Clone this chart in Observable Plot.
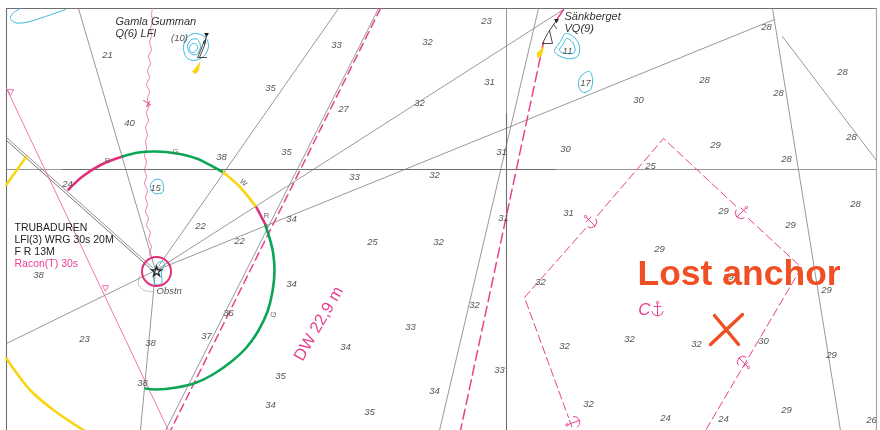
<!DOCTYPE html>
<html>
<head>
<meta charset="utf-8">
<script src="https://cdn.jsdelivr.net/npm/d3@7"></script>
<script src="https://cdn.jsdelivr.net/npm/@observablehq/plot@0.6"></script>
<style>
html,body{margin:0;padding:0;background:#fff}
#chart svg{display:block;filter:blur(0.3px)}
</style>
</head>
<body>
<div id="chart"></div>
<script>
const FONT = "Liberation Sans";
const GRAY = "#8c8c8c", DARK = "#6e6e6e", PINK = "#e8418f", BLUE = "#3cb9dd", GREEN = "#0ba653", YELLOW = "#fbd512", RED = "#f04e23", INK = "#555";

// Soundings: x, y, depth
const depths = [
  [107,54,"21"],[129,122,"40"],[270,87,"35"],[286,151,"35"],[221,156,"38"],[67,183,"24"],
  [200,225,"22"],[239,240,"22"],[38,274,"38"],[291,218,"34"],[291,283,"34"],[228,312,"36"],
  [206,335,"37"],[84,338,"23"],[150,342,"38"],[142,382,"38"],[280,375,"35"],[270,404,"34"],
  [336,44,"33"],[427,41,"32"],[486,20,"23"],[489,81,"31"],[419,102,"32"],[343,108,"27"],
  [354,176,"33"],[434,174,"32"],[501,151,"31"],[565,148,"30"],[503,217,"31"],[568,212,"31"],
  [372,241,"25"],[438,241,"32"],[540,281,"32"],[474,304,"32"],[410,326,"33"],[345,346,"34"],
  [564,345,"32"],[499,369,"33"],[434,390,"34"],[369,411,"35"],[588,403,"32"],
  [766,26,"28"],[704,79,"28"],[638,99,"30"],[778,92,"28"],[842,71,"28"],[851,136,"28"],
  [715,144,"29"],[786,158,"28"],[650,165,"25"],[723,210,"29"],[855,203,"28"],
  [790,224,"29"],[659,248,"29"],[826,289,"29"],[728,276,"29"],[629,338,"32"],[696,343,"32"],
  [763,340,"30"],[831,354,"29"],[665,417,"24"],[723,418,"24"],[786,409,"29"],[871,419,"26"],
  [179,37,"(10)"],[155,187,"15"],[567,50,"11"],[585,82,"17"]
];

// Straight chart lines
const thinLines = [
  [[78,8],[155,270]],[[155,270],[140,430]],[[338,8],[155,270]],[[155,270],[563,9]],
  [[155,270],[774,19]],[[155,270],[6,343]],[[378,8],[165,430]],[[538,8],[439,430]],
  [[772,8],[840,430]],[[782,36],[876,160]],[[6,169],[62,169]],[[506,8],[506,113]],
  [[555,169],[876,169]]
];
const darkLines = [
  [[62,169],[555,169]],[[506,113],[506,430]],[[6,8],[876,8]],[[6,8],[6,430]]
];
const frameRight = [[876,8],[876,430]];
const cableA = [[6,137],[152,267]];
const cableB = [[6,140],[151,269]];

// Pink lines
const pinkThin = [[6,88],[168,430]];
const channelA = [[380,8],[170,430]];
const channelB = [[543,42],[460,430]];
const channelC = [[557,18],[563,9]];
const areaDash = [[597,215],[663,138],[737,207]];
const areaDash2 = [[748,218],[801,267],[705,430]];
const areaDash3 = [[585,228],[524,297],[568,417]];
const cableWave = [
  [152,8],[151,14],[152,21],[150,28],[151,35],[149,42],[151,49],[148,56],[150,63],[147,70],
  [149,77],[146,84],[149,91],[147,98],[148,106],[146,113],[148,120],[145,127],[147,134],[145,141],
  [146,148],[144,155],[146,162],[144,169],[146,176],[144,183],[147,190],[145,197],[147,204],[145,211],
  [148,218],[146,225],[150,232],[148,239],[151,246],[149,253],[152,259]
];
const waveMark = [[143,100],[150,104],[146,106],[149,101]];

// Light sector arcs
const arcRed1 = [[68,189],[82,176],[101,164],[122,156]];
const arcGreen1 = [[122,156],[138,152],[155,151],[176,153],[196,158],[214,167],[223,172]];
const arcYellow1 = [[223,172],[239,186],[256,207]];
const arcRed2 = [[256,207],[266,226]];
const arcGreen2 = [[265,225],[272,249],[274,270],[272,291],[267,311],[258,330],[246,347],[231,361],[214,373],[196,382],[176,387],[155,389],[145,388]];
const arcYellow2 = [[6,358],[30,390],[55,411],[85,431]];
const arcYellow3 = [[6,184],[26,156]];

// Shoals
const shoals = [
  [[183,47],[186,37],[195,33],[205,37],[208,46],[203,56],[193,60],[186,57]],
  [[187,46],[191,39],[197,39],[200,46],[196,54],[190,53]],
  [[189,47],[192,43],[196,44],[197,48],[193,52],[190,51]],
  [[565,33],[574,37],[579,46],[577,56],[566,58],[554,51],[560,41]],
  [[566,38],[573,43],[574,52],[566,53],[559,50],[563,43]],
  [[578,82],[581,75],[589,71],[592,78],[590,89],[583,92],[579,88]],
  [[150,184],[155,179],[161,180],[163,186],[162,192],[155,193],[151,190]],
  [[162,261],[158,262],[154,268],[153,276],[155,284],[161,283],[161,272],[164,263]]
];
const shoalOpen = [[20,8],[12,13],[10,18],[14,22],[25,22],[45,16],[65,9]];
const obstn = [[139,276],[138,284],[144,290],[152,291]];

// Beacons and flares
const beacons = [
  [[206,34],[204,45],[199,57]],[[204,40],[200,50],[197,57],[206,57]],[[203,41],[204,44],[205,40]],
  [[556,20],[547,33],[542,43],[552,43],[549,30]],[[553,24],[556,28]]
];
const flares = [
  [[199,62],[198,70],[195,73],[192,71]],
  [[543,46],[541,55],[537,57],[537,52]]
];

// Anchors: x, y, angle
const anchors = [[590,221,-45],[741,212,45],[743,362,135],[573,422,-110],[657,309,0]];
const anchorParts = [
  [[0,-6],[0,6]],[[-3.5,-3],[3.5,-3]],[[-5.5,2],[-4,5],[0,6.5],[4,5],[5.5,2]]
];
const anchorRing = [0,-7];
const triangles = [[10,91],[105,287]];
const lostMark = [[[714,315],[738,344]],[[742,314],[710,344]]];

// Labels
const gammaLabels = [[115,21,"Gamla Gumman"],[115,33,"Q(6) LFl"],[564,16,"Sänkberget"],[564,28,"VQ(9)"]];
const trubaLabels = [[14,227,"TRUBADUREN"],[14,239,"LFl(3) WRG 30s 20M"],[14,251,"F R 13M"]];
const sectorLetters = [[107,160,"R",0],[175,151,"G",0],[243,182,"W",45],[266,215,"R",0],[273,314,"G",-70]];

const px = d => d[0], py = d => d[1];
const line = (pts, opts) => Plot.line(pts, {x: px, y: py, clip: true, ...opts});
const group = (list) => list.flatMap((pts, i) => pts.map(p => [p[0], p[1], i]));
const lines = (list, opts) => Plot.line(group(list), {x: px, y: py, z: d => d[2], clip: true, ...opts});

const rotated = ([u, v], ax, ay, deg) => {
  const t = deg * Math.PI / 180;
  return [ax + u * Math.cos(t) - v * Math.sin(t), ay + u * Math.sin(t) + v * Math.cos(t)];
};
const anchorPts = anchors.flatMap(([ax, ay, deg], a) => anchorParts.flatMap((part, k) => part.map(p => [...rotated(p, ax, ay, deg), a * 10 + k])));
const anchorRings = anchors.map(([ax, ay, deg]) => rotated(anchorRing, ax, ay, deg));

const chart = Plot.plot({
  width: 880, height: 430, margin: 0,
  x: {domain: [0, 880], axis: null},
  y: {domain: [430, 0], axis: null},
  style: {fontFamily: FONT, background: "#fff"},
  marks: [
    lines(thinLines, {stroke: GRAY, strokeWidth: 0.9}),
    lines(darkLines, {stroke: DARK, strokeWidth: 1.1}),
    line(frameRight, {stroke: "#a8a8a8", strokeWidth: 1.2}),
    line(cableA, {stroke: "#777", strokeWidth: 0.8}),
    line(cableB, {stroke: "#555", strokeWidth: 0.8}),

    line(pinkThin, {stroke: "#ea6aa8", strokeWidth: 0.9}),
    line(channelA, {stroke: PINK, strokeWidth: 1.5, strokeDasharray: "8,5"}),
    line(channelB, {stroke: PINK, strokeWidth: 1.5, strokeDasharray: "10,5"}),
    line(channelC, {stroke: PINK, strokeWidth: 1.5}),
    line(areaDash, {stroke: PINK, strokeWidth: 1, strokeDasharray: "8,4"}),
    line(areaDash2, {stroke: PINK, strokeWidth: 1, strokeDasharray: "8,4"}),
    line(areaDash3, {stroke: PINK, strokeWidth: 1, strokeDasharray: "8,4"}),
    line(cableWave, {stroke: "#ef7db5", strokeWidth: 1, curve: "catmull-rom"}),
    line(waveMark, {stroke: PINK, strokeWidth: 1}),

    line(arcRed1, {stroke: "#e0307a", strokeWidth: 2.6, curve: "catmull-rom"}),
    line(arcGreen1, {stroke: GREEN, strokeWidth: 2.6, curve: "catmull-rom"}),
    line(arcYellow1, {stroke: YELLOW, strokeWidth: 2.6, curve: "catmull-rom"}),
    line(arcRed2, {stroke: "#e0307a", strokeWidth: 2.6}),
    line(arcGreen2, {stroke: GREEN, strokeWidth: 2.6, curve: "catmull-rom"}),
    line(arcYellow2, {stroke: YELLOW, strokeWidth: 2.6, curve: "catmull-rom"}),
    line(arcYellow3, {stroke: YELLOW, strokeWidth: 2.6}),

    lines(shoals, {stroke: BLUE, strokeWidth: 1, curve: "catmull-rom-closed"}),
    line(shoalOpen, {stroke: BLUE, strokeWidth: 1, curve: "catmull-rom"}),
    line(obstn, {stroke: "#999", strokeWidth: 0.8, strokeDasharray: "1.5,1.5", curve: "catmull-rom"}),

    Plot.dot([[156,271]], {x: px, y: py, r: 14.5, stroke: "#e0307a", strokeWidth: 2}),
    Plot.dot([[156,271]], {x: px, y: py, r: 3.2, symbol: "star", stroke: "#222", strokeWidth: 1.2}),

    lines(beacons, {stroke: "#333", strokeWidth: 0.9}),
    Plot.dot([[206,34],[556,20]], {x: px, y: py, r: 1.8, symbol: "triangle", fill: "#222", rotate: 180}),
    ...flares.map(f => line(f, {stroke: YELLOW, fill: YELLOW, strokeWidth: 1})),

    Plot.line(anchorPts, {x: px, y: py, z: d => d[2], stroke: PINK, strokeWidth: 1, clip: true}),
    Plot.dot(anchorRings, {x: px, y: py, r: 1.2, stroke: PINK, strokeWidth: 0.9}),
    Plot.dot(triangles, {x: px, y: py, r: 2.4, symbol: "triangle", stroke: "#ea6aa8", strokeWidth: 0.9, rotate: 180}),

    Plot.text(depths, {x: px, y: py, text: d => d[2], fontSize: 9.5, fontStyle: "italic", fill: INK, lineAnchor: "middle", textAnchor: "middle"}),
    Plot.text(sectorLetters, {x: px, y: py, text: d => d[2], rotate: d => d[3], fontSize: 7.5, fill: "#666", lineAnchor: "middle"}),
    Plot.text(gammaLabels, {x: px, y: py, text: d => d[2], fontSize: 11, fontStyle: "italic", fill: "#333", textAnchor: "start", lineAnchor: "middle"}),
    Plot.text(trubaLabels, {x: px, y: py, text: d => d[2], fontSize: 10.5, fill: "#222", textAnchor: "start", lineAnchor: "middle"}),
    Plot.text([[14,263,"Racon(T) 30s"]], {x: px, y: py, text: d => d[2], fontSize: 10.5, fill: PINK, textAnchor: "start", lineAnchor: "middle"}),
    Plot.text([[156,290,"Obstn"]], {x: px, y: py, text: d => d[2], fontSize: 9.5, fontStyle: "italic", fill: INK, textAnchor: "start", lineAnchor: "middle"}),
    Plot.text([[318,323,"DW 22,9 m"]], {x: px, y: py, text: d => d[2], fontSize: 16.5, rotate: -60, fill: PINK, lineAnchor: "middle"}),
    Plot.text([[644,309,"C"]], {x: px, y: py, text: d => d[2], fontSize: 17, fontStyle: "italic", fill: PINK, lineAnchor: "middle"}),

    Plot.text([[637,273,"Lost anchor"]], {x: px, y: py, text: d => d[2], fontSize: 35.5, fontWeight: "bold", fill: RED, textAnchor: "start", lineAnchor: "middle"}),
    lines(lostMark, {stroke: RED, strokeWidth: 3.4})
  ]
});
document.getElementById("chart").append(chart);
</script>
</body>
</html>
